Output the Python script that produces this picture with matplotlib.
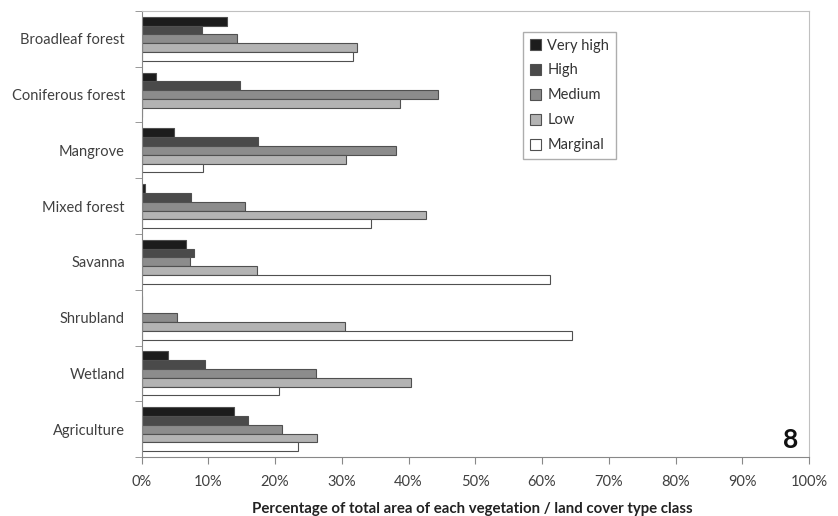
import matplotlib.pyplot as plt
import numpy as np

plt.rcParams['font.family'] = ['Lato', 'DejaVu Sans']

categories = ["Broadleaf forest", "Coniferous forest", "Mangrove", "Mixed forest",
              "Savanna", "Shrubland", "Wetland", "Agriculture"]
series = ["Very high", "High", "Medium", "Low", "Marginal"]

very_high = [12.8, 2.2, 4.9, 0.5, 6.6, 0.0, 4.0, 13.9]
high = [9.1, 14.8, 17.4, 7.4, 7.8, 0.0, 9.5, 15.9]
medium = [14.3, 44.4, 38.1, 15.5, 7.3, 5.3, 26.1, 21.1]
low = [32.3, 38.7, 30.6, 42.6, 17.3, 30.5, 40.3, 26.3]
marginal = [31.6, 0.0, 9.2, 34.3, 61.2, 64.5, 20.6, 23.5]

colors = ["#1c1c1c", "#4a4a4a", "#8c8c8c", "#b3b3b3", "#ffffff"]

fig = plt.figure(figsize=(8.38, 5.16), dpi=100)
ax = fig.add_axes([0.169, 0.1143, 0.7964, 0.8644])

y = np.arange(len(categories))
h = 0.158
for j, (name, vals) in enumerate(zip(series, [very_high, high, medium, low, marginal])):
    ax.barh(y + (j - 2) * h, vals, height=h, color=colors[j], edgecolor="#505050",
            linewidth=0.8, label=name)

ax.set_ylim(len(categories) - 0.5, -0.5)
ax.set_xlim(0, 100)
ax.set_yticks(y)
ax.set_yticklabels(categories, fontsize=10.5, color="#404040")
ax.set_yticks(np.arange(len(categories) + 1) - 0.5, minor=True)
ax.tick_params(axis="y", which="major", length=0, pad=12)
ax.tick_params(axis="y", which="minor", length=5, color="#888888", direction="out")

ax.set_xticks(np.arange(0, 101, 10))
ax.set_xticklabels([f"{v}%" for v in range(0, 101, 10)], fontsize=10.5, color="#404040")
ax.tick_params(axis="x", length=5, color="#888888", direction="out", pad=8)

for s in ["left", "bottom"]:
    ax.spines[s].set_color("#888888")
for s in ["top", "right"]:
    ax.spines[s].set_color("#c0c0c0")

ax.set_xlabel("Percentage of total area of each vegetation / land cover type class",
              fontsize=10.8, fontweight="bold", color="#222222")
ax.xaxis.set_label_coords(0.495, -0.1256)
ax.xaxis.label.set_va("baseline")

leg = ax.legend(loc="upper left", bbox_to_anchor=(0.5717, 0.953), borderaxespad=0,
                fontsize=10.5, frameon=True, fancybox=False, edgecolor="#999999",
                handlelength=0.8, handleheight=0.8, handletextpad=0.4,
                labelspacing=0.75, borderpad=0.45)
for t in leg.get_texts():
    t.set_color("#333333")

ax.text(0.984, 0.02, "8", transform=ax.transAxes, ha="right", va="baseline",
        fontsize=19, fontweight="bold", color="#111111")

fig.savefig("out.png", dpi=100)
